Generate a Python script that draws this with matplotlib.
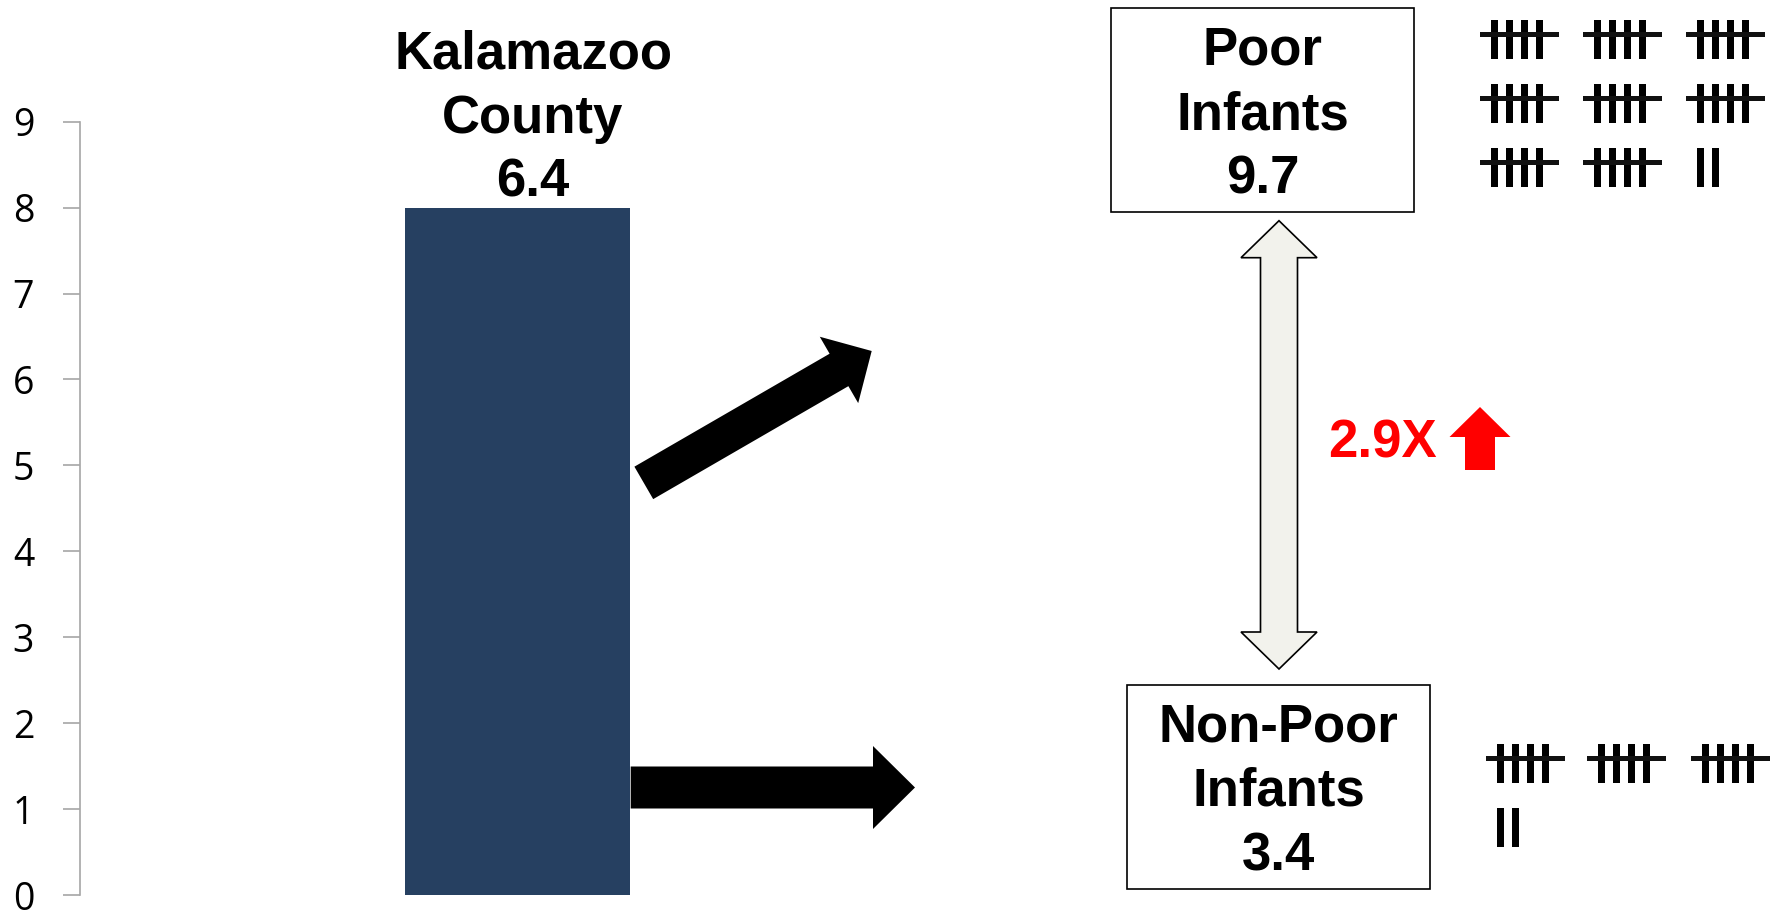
import matplotlib
matplotlib.use("Agg")
import matplotlib.pyplot as plt
import matplotlib.transforms as mtransforms
from matplotlib.patches import FancyArrow, Polygon, Rectangle

# ---- data ----
county_label = "Kalamazoo\nCounty"
county_rate = 6.4
poor_label = "Poor\nInfants"
poor_rate = 9.7
nonpoor_label = "Non-Poor\nInfants"
nonpoor_rate = 3.4
ratio_text = "2.9X"
poor_tally = 42
nonpoor_tally = 17
tick_labels = ["0", "1", "2", "3", "4", "5", "6", "7", "8", "9"]
tick_step = 0.8  # axis units per labelled tick

W, H = 1781, 913
BAR_COLOR = "#264061"
FONT = "Liberation Sans"
LINESP = 1.36

fig = plt.figure(figsize=(W / 100, H / 100), dpi=100)
fig.patch.set_facecolor("white")

# pixel coordinates measured from the top-left corner of the figure
px = mtransforms.Affine2D().scale(1 / W, -1 / H).translate(0, 1) + fig.transFigure

# ---- bar axis ----
ax_left, ax_right = 80, 1080
ax_top, ax_bottom = 121.7, 895
ax = fig.add_axes([ax_left / W, (H - ax_bottom) / H,
                   (ax_right - ax_left) / W, (ax_bottom - ax_top) / H])
ax.set_facecolor("none")
unit = 224.5 / 0.8
bar_center_px = 517.75
ax.set_xlim(-(bar_center_px - ax_left) / unit, (ax_right - bar_center_px) / unit)
ax.set_ylim(0, tick_step * (len(tick_labels) - 1))
bars = ax.bar([0], [county_rate], width=0.8, color=BAR_COLOR, zorder=2)

ax.set_yticks([i * tick_step for i in range(len(tick_labels))])
ax.set_yticklabels(tick_labels, fontsize=27, family="Open Sans", color="black")
ax.tick_params(axis="y", direction="out", length=12, width=1.2, color="#A6A6A6", pad=21)
ax.set_xticks([])
for s in ("top", "right", "bottom"):
    ax.spines[s].set_visible(False)
ax.spines["left"].set_color("#A6A6A6")
ax.spines["left"].set_linewidth(1.2)

# value label above the bar
bar = bars[0]
ax.annotate(f"{county_label}\n{county_rate}",
            xy=(bar.get_x() + bar.get_width() / 2, bar.get_height()),
            xytext=(11, 0), textcoords="offset points", ha="center", va="bottom",
            fontsize=38, fontweight="bold", family=FONT, linespacing=LINESP,
            annotation_clip=False)

# ---- arrows from the bar ----
def arrow(x0, y0, x1, y1, width, head_width, head_length, **kw):
    a = FancyArrow(x0, y0, x1 - x0, y1 - y0, width=width, head_width=head_width,
                   head_length=head_length, length_includes_head=True,
                   transform=px, **kw)
    fig.add_artist(a)

arrow(643.8, 482.9, 871.7, 351.0, 37.5, 76.7, 37.8, color="black", lw=0)
arrow(630.7, 787.5, 915.0, 787.5, 42, 83, 42, color="black", lw=0)

# ---- group boxes ----
def box(x0, y0, x1, y1, text):
    fig.add_artist(Rectangle((x0, y0), x1 - x0, y1 - y0, transform=px,
                             facecolor="white", edgecolor="black", lw=1.2))
    fig.text((x0 + x1) / 2, (y0 + y1) / 2 + 5, text, transform=px, ha="center",
             va="center", fontsize=38, fontweight="bold", family=FONT,
             linespacing=LINESP)

box(1111, 8, 1414, 212, f"{poor_label}\n{poor_rate}")
box(1127, 685, 1430, 889, f"{nonpoor_label}\n{nonpoor_rate}")

# ---- double-headed comparison arrow ----
cx, ytop, ybot = 1279, 220.7, 669.0
sw, hw, hl = 37 / 2, 76 / 2, 37
pts = [(cx, ytop), (cx + hw, ytop + hl), (cx + sw, ytop + hl),
       (cx + sw, ybot - hl), (cx + hw, ybot - hl), (cx, ybot),
       (cx - hw, ybot - hl), (cx - sw, ybot - hl), (cx - sw, ytop + hl),
       (cx - hw, ytop + hl)]
fig.add_artist(Polygon(pts, closed=True, transform=px, facecolor="#F2F2EC",
                       edgecolor="black", lw=1.2, joinstyle="miter"))

# ---- ratio callout ----
fig.text(1382, 443, ratio_text, transform=px, ha="center", va="center",
         fontsize=38, fontweight="bold", family=FONT, color="#FF0000")
arrow(1480, 470, 1480, 407, 30, 61, 30, color="#FF0000", lw=0)

# ---- tally marks ----
def tally(count, x_starts, y_starts):
    slots = [(x, y) for y in y_starts for x in x_starts]
    groups, rest = divmod(count, 5)
    stroke_w, stroke_gap, stroke_h = 7.3, 15, 38.7
    for i in range(groups + (1 if rest else 0)):
        gx, gy = slots[i]
        n = 4 if i < groups else rest
        for k in range(n):
            fig.add_artist(Rectangle((gx + k * stroke_gap, gy), stroke_w, stroke_h,
                                     transform=px, facecolor="black", lw=0))
        if i < groups:
            fig.add_artist(Rectangle((gx - 11, gy + 12.5), 79, 4.2, transform=px,
                                     facecolor="#111111", lw=0))

tally(poor_tally, [1491, 1594, 1697], [20, 84, 148])
tally(nonpoor_tally, [1497, 1598, 1702], [744, 808])

fig.savefig("out.png", dpi=100, facecolor="white")
